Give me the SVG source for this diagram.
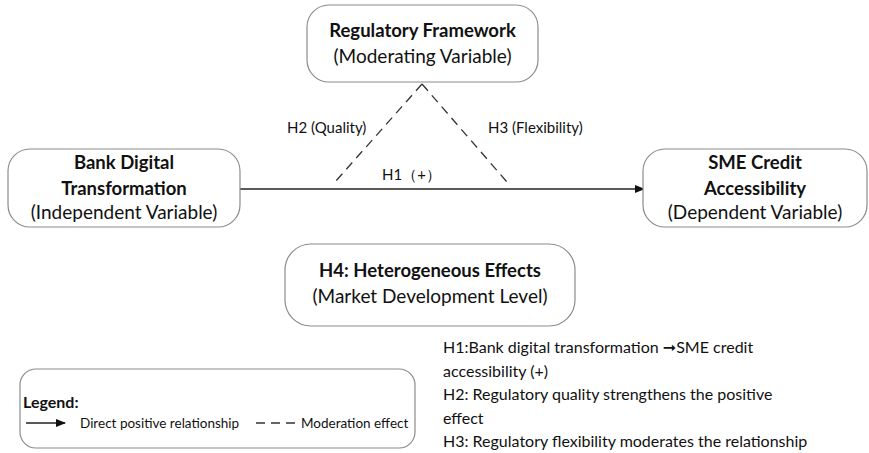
<svg xmlns="http://www.w3.org/2000/svg" width="869" height="453" viewBox="0 0 869 453">
  <style>
    .box { fill: #ffffff; stroke: #8c8c8c; stroke-width: 1.2; }
    .t { font-family: Lato, "Open Sans", "Liberation Sans", sans-serif; fill: #111111; }
    .b { font-weight: bold; font-size: 18.5px; }
    .n { font-size: 19px; }
    .lbl { font-size: 15px; }
    .note { font-size: 16px; }
    .solid { stroke: #222222; stroke-width: 1.6; fill: none; }
    .dash { stroke: #333333; stroke-width: 1.3; fill: none; stroke-dasharray: 9 6; }
  </style>
  <defs>
    <marker id="arrow" markerWidth="10" markerHeight="10" refX="9" refY="5" orient="auto" markerUnits="userSpaceOnUse">
      <path d="M0,1 L10,5 L0,9 Z" fill="#111111"/>
    </marker>
  </defs>
  <rect width="869" height="453" fill="#ffffff"/>

  <!-- connectors -->
  <g id="connectors">
    <line class="solid" x1="240" y1="189" x2="644" y2="189" marker-end="url(#arrow)"/>
    <line class="dash" x1="422" y1="84" x2="335" y2="182"/>
    <line class="dash" x1="422" y1="84" x2="507" y2="182"/>
    <text class="t lbl" x="287" y="133">H2 (Quality)</text>
    <text class="t lbl" x="488" y="133">H3 (Flexibility)</text>
    <text class="t lbl" x="382" y="180">H1（+）</text>
  </g>

  <g id="node-regulatory">
    <rect class="box" x="307" y="5" width="231" height="77" rx="22"/>
    <text class="t b" x="422.5" y="37" text-anchor="middle">Regulatory Framework</text>
    <text class="t n" x="422.5" y="63" text-anchor="middle">(Moderating Variable)</text>
  </g>

  <g id="node-bank">
    <rect class="box" x="8" y="149" width="232" height="78" rx="22"/>
    <text class="t b" x="124" y="169" text-anchor="middle">Bank Digital</text>
    <text class="t b" x="124" y="195" text-anchor="middle">Transformation</text>
    <text class="t n" x="124" y="219" text-anchor="middle">(Independent Variable)</text>
  </g>

  <g id="node-sme">
    <rect class="box" x="643" y="149" width="224" height="78" rx="22"/>
    <text class="t b" x="755" y="169" text-anchor="middle">SME Credit</text>
    <text class="t b" x="755" y="195" text-anchor="middle">Accessibility</text>
    <text class="t n" x="755" y="219" text-anchor="middle">(Dependent Variable)</text>
  </g>

  <g id="node-h4">
    <rect class="box" x="285" y="244" width="290" height="82" rx="26"/>
    <text class="t b" x="430" y="277" text-anchor="middle">H4: Heterogeneous Effects</text>
    <text class="t n" x="430" y="303" text-anchor="middle">(Market Development Level)</text>
  </g>

  <g id="legend">
    <rect class="box" x="20" y="369" width="395" height="79" rx="16"/>
    <text class="t" x="23" y="408" font-size="16" font-weight="bold">Legend:</text>
    <line class="solid" x1="26" y1="423" x2="65" y2="423" marker-end="url(#arrow)"/>
    <text class="t" x="80" y="428" font-size="13.5">Direct positive relationship</text>
    <line class="dash" x1="256" y1="423" x2="298" y2="423" stroke-dasharray="8 5"/>
    <text class="t" x="301" y="428" font-size="13.5">Moderation effect</text>
  </g>

  <g id="notes">
    <text class="t note" x="443" y="353">H1:Bank digital transformation <tspan font-family="DejaVu Sans" font-weight="bold">➞</tspan>SME credit</text>
    <text class="t note" x="443" y="377">accessibility (+)</text>
    <text class="t note" x="443" y="400">H2: Regulatory quality strengthens the positive</text>
    <text class="t note" x="443" y="424">effect</text>
    <text class="t note" x="443" y="447">H3: Regulatory flexibility moderates the relationship</text>
  </g>
</svg>
